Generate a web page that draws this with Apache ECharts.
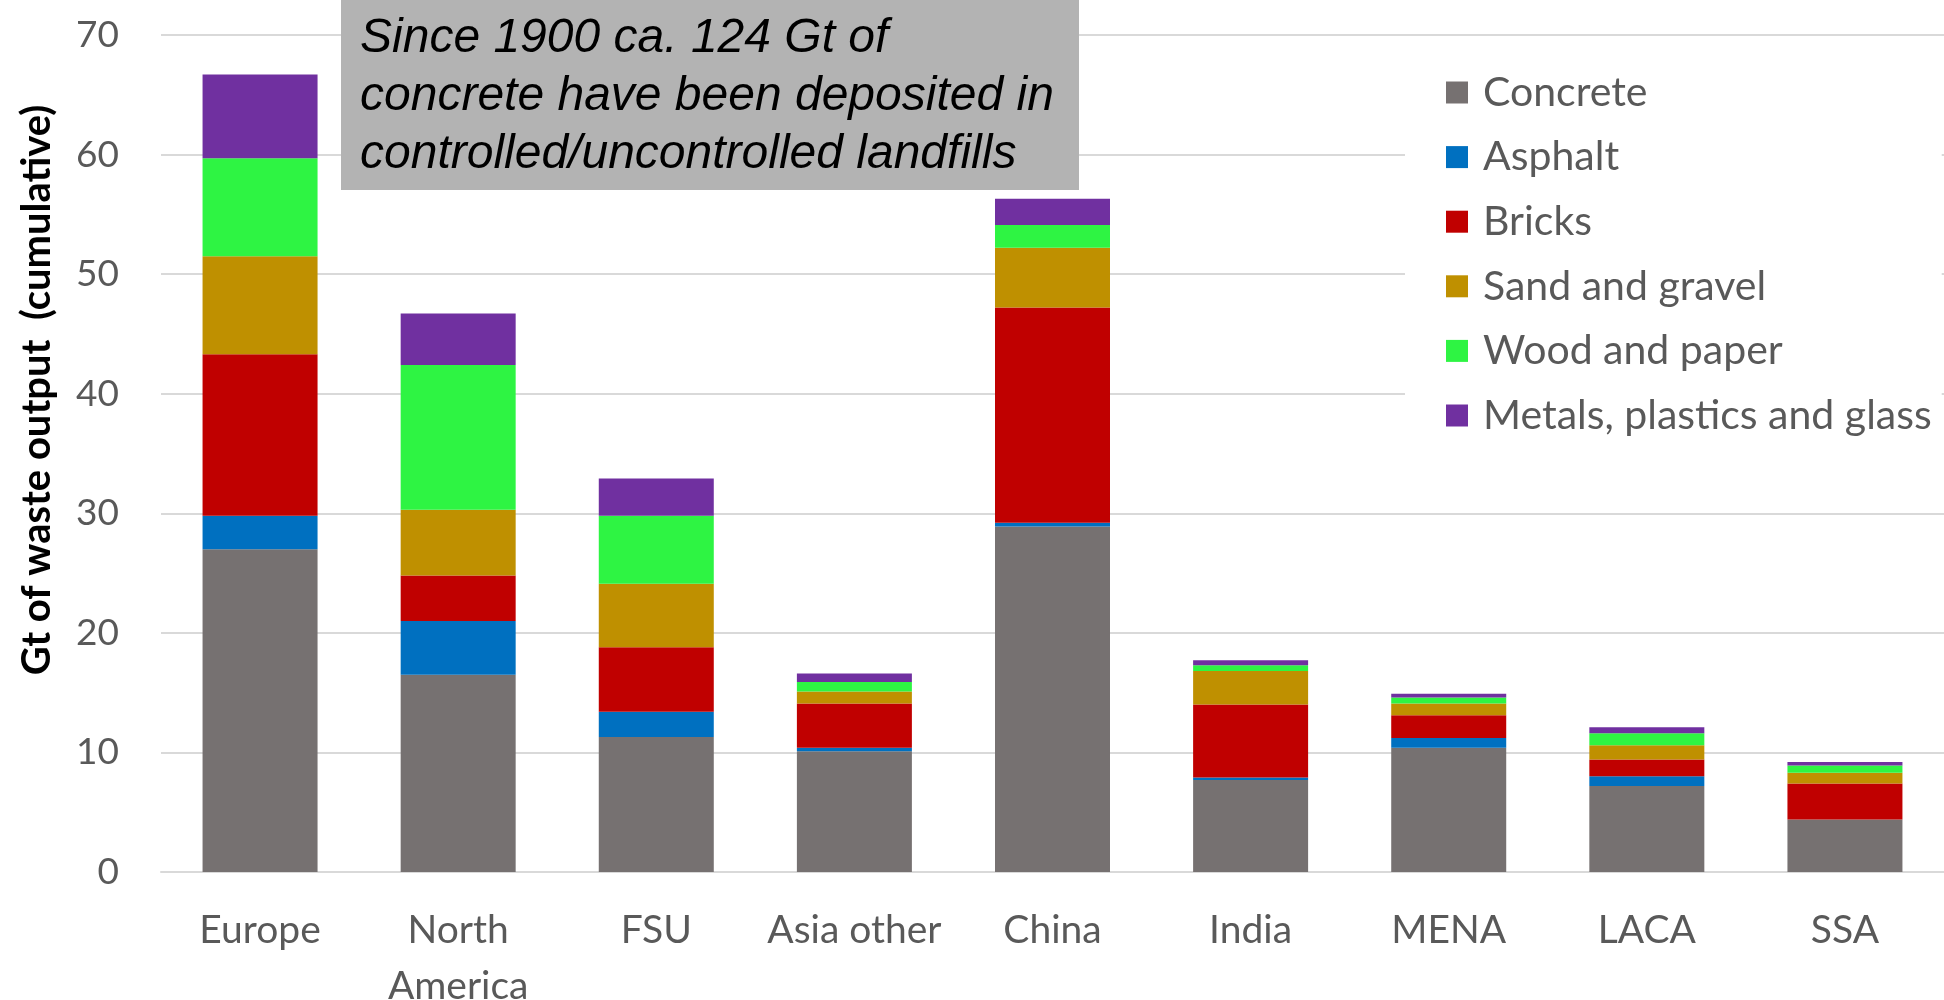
<!DOCTYPE html>
<html>
<head>
<meta charset="utf-8">
<title>Construction waste by region</title>
<script src="https://cdn.jsdelivr.net/npm/echarts@6/dist/echarts.min.js"></script>
<style>
  html, body { margin: 0; padding: 0; background: #ffffff; }
  #chart { width: 1944px; height: 1000px; }
</style>
</head>
<body>
<div id="chart"></div>
<script>
// Regions along the category axis
const regions = ['Europe', 'North\nAmerica', 'FSU', 'Asia other', 'China', 'India', 'MENA', 'LACA', 'SSA'];

// Cumulative waste output per material, Gt
const concrete = [27.0, 16.5, 11.3, 10.1, 28.9, 7.7, 10.4, 7.2, 4.4];
const asphalt  = [2.8, 4.5, 2.1, 0.3, 0.3, 0.2, 0.8, 0.8, 0.0];
const bricks   = [13.5, 3.8, 5.4, 3.7, 18.0, 6.1, 1.9, 1.4, 3.0];
const sandGravel = [8.2, 5.5, 5.3, 1.0, 5.0, 2.8, 1.0, 1.2, 0.9];
const woodPaper  = [8.2, 12.1, 5.7, 0.8, 1.9, 0.5, 0.5, 1.0, 0.6];
const metalsPlasticsGlass = [7.0, 4.3, 3.1, 0.7, 2.2, 0.4, 0.3, 0.5, 0.3];

// Value axis ticks
const yTicks = [0, 10, 20, 30, 40, 50, 60, 70];

const materials = [
  { name: 'Concrete', data: concrete, color: '#767171' },
  { name: 'Asphalt', data: asphalt, color: '#0070C0' },
  { name: 'Bricks', data: bricks, color: '#C00000' },
  { name: 'Sand and gravel', data: sandGravel, color: '#BF9000' },
  { name: 'Wood and paper', data: woodPaper, color: '#2EF443' },
  { name: 'Metals, plastics and glass', data: metalsPlasticsGlass, color: '#7030A0' }
];

const labelFont = 'Lato';
const labelColor = '#595959';
const noteText = 'Since 1900 ca. 124 Gt of\nconcrete have been deposited in\ncontrolled/uncontrolled landfills';

const chart = echarts.init(document.getElementById('chart'), null, { renderer: 'canvas' });

chart.setOption({
  animation: false,
  backgroundColor: '#ffffff',
  grid: {
    left: 161, right: 0, top: 35, bottom: 128,
    containLabel: false,
    outerBoundsMode: 'none'
  },
  legend: {
    orient: 'vertical',
    left: 1405,
    top: 52,
    padding: [20, 10, 20, 41],
    backgroundColor: '#ffffff',
    itemWidth: 22,
    itemHeight: 22,
    itemGap: 23.6,
    icon: 'rect',
    selectedMode: false,
    textStyle: {
      fontFamily: labelFont,
      fontSize: 41,
      color: labelColor,
      lineHeight: 40,
      padding: [0, 0, 0, 10]
    },
    data: materials.map(m => m.name)
  },
  xAxis: {
    type: 'category',
    data: regions,
    axisTick: { show: false },
    axisLine: { show: true, lineStyle: { color: '#d9d9d9', width: 2 } },
    axisLabel: {
      fontFamily: labelFont,
      fontSize: 39,
      color: labelColor,
      lineHeight: 56,
      margin: 30,
      interval: 0
    }
  },
  yAxis: {
    type: 'value',
    min: yTicks[0],
    max: yTicks[yTicks.length - 1],
    interval: yTicks[1] - yTicks[0],
    axisLine: { show: false },
    axisTick: { show: false },
    splitLine: { show: true, lineStyle: { color: '#d9d9d9', width: 2 } },
    axisLabel: {
      fontFamily: labelFont,
      fontSize: 37,
      color: labelColor,
      margin: 42
    }
  },
  series: materials.map(m => ({
    name: m.name,
    type: 'bar',
    stack: 'waste',
    barWidth: 115,
    data: m.data,
    itemStyle: { color: m.color },
    emphasis: { disabled: true }
  })),
  graphic: [
    {
      type: 'text',
      x: 37,
      y: 390,
      rotation: Math.PI / 2,
      z: 100,
      style: {
        text: 'Gt of waste output  (cumulative)',
        font: 'bold 40px Lato',
        fill: '#000000',
        align: 'center',
        verticalAlign: 'middle'
      }
    },
    {
      type: 'rect',
      x: 341,
      y: 0,
      z: 100,
      shape: { x: 0, y: 0, width: 738, height: 190 },
      style: { fill: '#b3b3b3' }
    },
    {
      type: 'text',
      x: 360,
      y: 10,
      z: 101,
      style: {
        text: noteText,
        font: 'italic 48px "Liberation Sans"',
        lineHeight: 58,
        fill: '#000000',
        align: 'left',
        verticalAlign: 'top'
      }
    }
  ]
});
</script>
</body>
</html>
